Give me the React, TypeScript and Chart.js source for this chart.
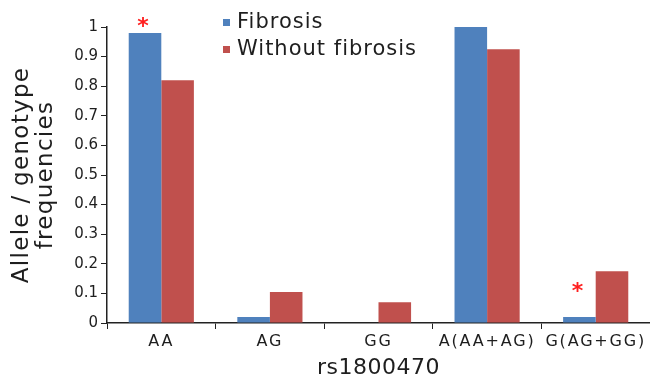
import React, { useEffect, useRef } from "react";
import { Chart, registerables } from "chart.js";

Chart.register(...registerables);

const categories = ["AA", "AG", "GG", "A(AA+AG)", "G(AG+GG)"];
const fibrosis = [0.98, 0.02, 0, 1.0, 0.02];
const withoutFibrosis = [0.82, 0.105, 0.07, 0.925, 0.175];
const seriesLabels = ["Fibrosis", "Without fibrosis"];
const seriesColors = ["#4F81BD", "#C0504D"];
const yTitle = ["Allele / genotype", "frequencies"];
const xTitle = "rs1800470";
// significance markers: [category index, y value]
const asteriskMarks: [number, number][] = [[0, 1.017], [4, 0.12]];

const FONT = "'DejaVu Sans', sans-serif";
const TEXT = "#1e1e1e";

function withSpacing(ctx: any, spacing: string, fn: () => void) {
  const prev = ctx.letterSpacing;
  ctx.letterSpacing = spacing;
  try { fn(); } finally { ctx.letterSpacing = prev; }
}

export default function App() {
  const ref = useRef<HTMLCanvasElement | null>(null);
  useEffect(() => {
    if (!ref.current) return;
    const spacingPlugin = {
      id: "spacing",
      beforeDraw(chart: any) {
        const ctx = chart.ctx;
        const x = chart.scales.x;
        const y = chart.scales.y;
        if (!x.__patched) {
          const dl = x.drawLabels.bind(x);
          x.drawLabels = (a: any) => withSpacing(ctx, "1.8px", () => dl(a));
          const dt = x.drawTitle.bind(x);
          x.drawTitle = () => withSpacing(ctx, "0.5px", () => dt());
          x.__patched = true;
        }
        if (!y.__patched) {
          const dt = y.drawTitle.bind(y);
          y.drawTitle = () => withSpacing(ctx, "1.3px", () => dt());
          y.__patched = true;
        }
      },
    };
    const legendPlugin = {
      id: "customLegend",
      afterDraw(chart: any) {
        const ctx = chart.ctx;
        ctx.save();
        ctx.font = `21px ${FONT}`;
        ctx.textBaseline = "alphabetic";
        ctx.textAlign = "left";
        ctx.letterSpacing = "1px";
        chart.data.datasets.forEach((ds: any, i: number) => {
          const yb = 28 + i * 27;
          ctx.fillStyle = ds.backgroundColor;
          ctx.fillRect(223, yb - 9, 7, 7);
          ctx.fillStyle = TEXT;
          ctx.fillText(ds.label, 237, yb);
        });
        ctx.restore();
      },
    };
    const asteriskPlugin = {
      id: "asterisks",
      afterDatasetsDraw(chart: any) {
        const ctx = chart.ctx;
        const meta = chart.getDatasetMeta(0);
        const ys = chart.scales.y;
        ctx.save();
        ctx.fillStyle = "#FF2020";
        ctx.font = `bold 22px ${FONT}`;
        ctx.textAlign = "center";
        ctx.textBaseline = "middle";
        asteriskMarks.forEach(([idx, val]) => {
          const x = meta.data[idx].x - 2;
          const y = ys.getPixelForValue(val);
          ctx.fillText("*", x, y + 5);
        });
        ctx.restore();
      },
    };
    const chart = new Chart(ref.current, {
      type: "bar",
      data: {
        labels: categories,
        datasets: [
          { label: seriesLabels[0], data: fibrosis, backgroundColor: seriesColors[0] },
          { label: seriesLabels[1], data: withoutFibrosis, backgroundColor: seriesColors[1] },
        ],
      },
      options: {
        animation: false,
        responsive: false,
        maintainAspectRatio: false,
        layout: { padding: { top: 27, right: 0, left: 0, bottom: 0 } },
        datasets: { bar: { categoryPercentage: 0.6, barPercentage: 1 } },
        plugins: { legend: { display: false }, tooltip: { enabled: false } },
        scales: {
          x: {
            afterFit: (s: any) => { s.height = 58; },
            grid: { offset: true, drawOnChartArea: false, tickLength: 6, color: "#222" },
            border: { color: "#222", width: 1.5 },
            ticks: { color: TEXT, font: { family: FONT, size: 16 }, padding: 3, maxRotation: 0, autoSkip: false },
            title: { display: true, text: xTitle, color: TEXT, font: { family: FONT, size: 22 }, padding: { top: 0, bottom: 0 } },
          },
          y: {
            min: 0,
            max: 1,
            afterFit: (s: any) => { s.width = 107; },
            ticks: {
              stepSize: 0.1,
              color: TEXT,
              font: { family: FONT, size: 15 },
              padding: 3,
              callback: (v: any) => String(Number(Number(v).toFixed(1))),
            },
            grid: { drawOnChartArea: false, tickLength: 6, color: "#222" },
            border: { color: "#222", width: 1.5 },
            title: { display: true, text: yTitle, color: TEXT, font: { family: FONT, size: 23, lineHeight: 1.05 }, padding: { top: 10, bottom: 0 } },
          },
        },
      },
      plugins: [spacingPlugin, legendPlugin, asteriskPlugin],
    });
    return () => chart.destroy();
  }, []);
  return (
    <div style={{ position: "absolute", left: 0, top: 0, width: 650, height: 381, background: "#fff" }}>
      <canvas ref={ref} width={650} height={381} />
    </div>
  );
}
